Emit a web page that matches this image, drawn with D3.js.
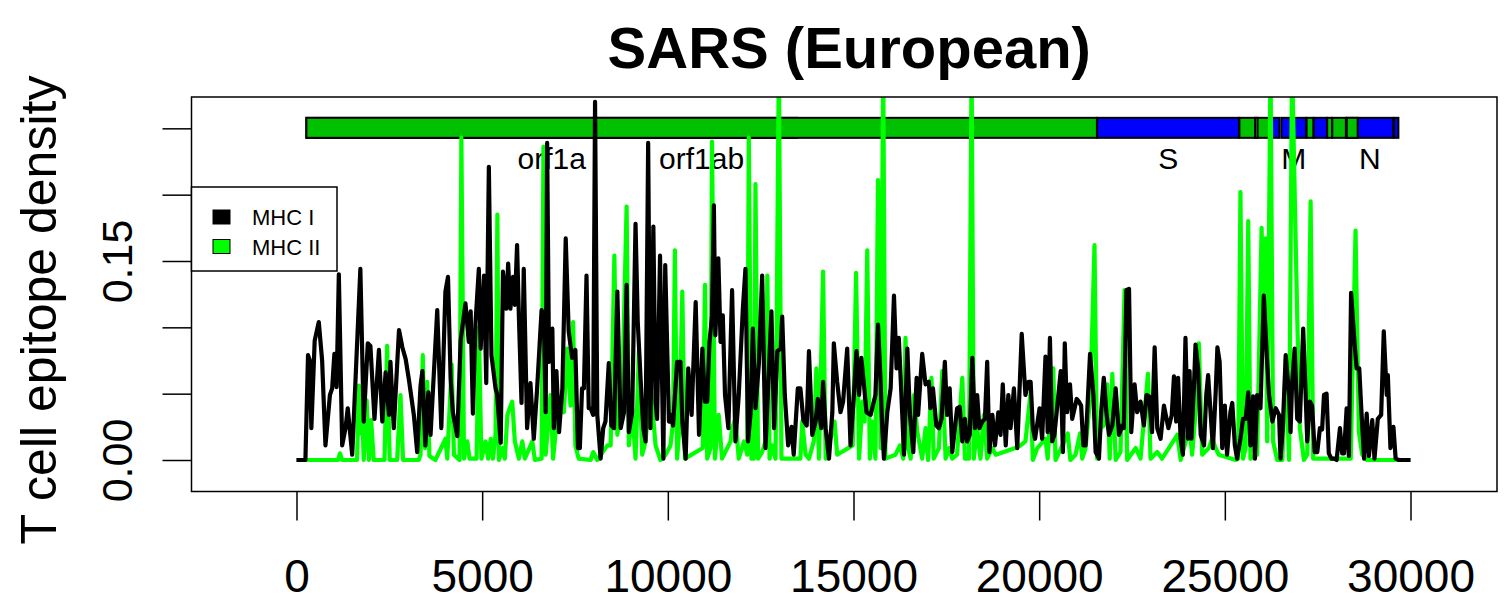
<!DOCTYPE html>
<html>
<head>
<meta charset="utf-8">
<script src="https://cdn.jsdelivr.net/npm/d3@7"></script>
<style>
  body { margin: 0; background: #fff; }
  svg { font-family: "Liberation Sans", Arial, Helvetica, sans-serif; }
</style>
</head>
<body>
<script>
// ---- data ----
// MHC I (black) epitope density: genome position, density
var mhc1Pos = [0,240,310,360,400,490,600,690,780,900,960,1020,1080,1140,1230,1320,1380,1500,1590,1720,1810,1920,1990,2100,2220,2310,2400,2490,2530,2620,2760,2850,2940,3030,3160,3250,3340,
  3390,3470,3550,3610,3790,3900,4010,4080,4150,4210,4330,4420,4550,4640,4690,4750,4820,4910,4960,5050,5110,5180,5250,5360,5400,5500,5560,5650,5700,5760,5830,5880,5940,5990,6060,6120,6210,6300,6390,6480,6600,6660,
  6710,6750,6800,6890,6930,7000,7070,7160,7250,7330,7420,7510,7580,7630,7690,7740,7810,7870,7920,7990,8040,8100,8190,8260,8320,8410,8480,8550,8640,8730,8820,8890,8950,9040,9130,9190,9270,9340,9400,9470,9530,9610,9670,9710,9790,9880,9930,
  10030,10070,10140,10250,10340,10390,10480,10550,10640,10750,10840,10930,11000,11060,11120,11190,11240,11280,11360,11420,11480,11540,11630,11730,11820,11910,12020,12090,12160,12230,12290,12360,12450,12540,12630,12700,12790,12860,12950,13040,13080,13150,13240,13330,13390,
  13500,13570,13650,13740,13800,13890,13980,14040,14130,14180,14250,14340,14430,14470,14560,14650,14720,14830,14920,15010,15080,15150,15210,15280,15350,15460,15590,15660,15730,15770,15820,15910,16000,16090,16160,16220,16290,16360,16450,16520,16610,16700,
  16740,16850,16940,17030,17070,17140,17230,17300,17370,17460,17520,17590,17660,17730,17790,17860,17930,18000,18060,18130,18200,18270,18330,18390,18470,18540,18600,18660,18740,18810,18900,18960,19020,19100,19170,19230,19320,19410,19530,19630,19710,19770,19830,19890,20010,20080,
  20170,20230,20290,20350,20410,20500,20580,20640,20690,20750,20830,20890,20930,21010,21070,21130,21190,21250,21370,21460,21520,21610,21670,21740,21810,21880,21970,22060,22150,22240,22280,22350,22420,22480,22570,22640,22730,22820,22890,22960,23040,23110,23180,23270,23360,
  23480,23570,23630,23690,23740,23810,23870,23940,24010,24050,24100,24170,24210,24280,24350,24440,24500,24550,24620,24680,24750,24800,24860,24930,25000,25060,25150,25200,25270,25330,25420,25490,25560,25630,25690,25760,25810,25870,25960,26050,26120,26190,26280,26370,26460,26500,26560,26640,26730,
  26770,26810,26880,26950,27020,27110,27170,27220,27290,27350,27420,27490,27560,27620,27670,27740,27800,27870,27940,28010,28100,28160,28210,28280,28340,28400,28490,28550,28620,28670,28750,28820,28880,28970,29030,29120,29210,29280,29360,29390,29460,29540,29600,29690,30000];
var mhc1Val = [0,0,0.079,0.075,0.024,0.09,0.104,0.075,0.011,0.049,0.054,0.08,0.055,0.14,0.011,0.024,0.039,0.004,0.061,0.144,0.029,0.088,0.086,0.031,0.083,0.029,0.066,0.034,0.074,0.024,0.098,0.085,0.076,0.06,0.034,0.006,0.056,
  0.067,0.011,0.051,0.019,0.113,0.024,0.127,0.138,0.062,0.036,0.018,0.09,0.118,0.089,0.112,0.035,0.103,0.144,0.084,0.139,0.058,0.221,0.079,0.054,0.05,0.013,0.142,0.114,0.148,0.114,0.138,0.117,0.162,0.107,0.043,0.144,0.024,0.058,0.016,0.054,0.113,0.109,
  0.036,0.239,0.074,0.099,0.024,0.067,0.021,0.054,0.167,0.097,0.077,0.083,0.009,0.009,0.054,0.054,0.139,0.039,0.039,0.034,0.27,0.034,0.001,0.024,0.029,0.073,0.026,0.024,0.127,0.024,0.036,0.132,0.021,0.036,0.178,0.104,0.059,0.024,0.014,0.239,0.024,0.176,0.044,0.031,0.154,0.001,0.147,
  0.029,0.034,0.026,0.074,0.074,0.029,0.001,0.069,0.034,0.119,0.019,0.084,0.044,0.044,0.088,0.109,0.192,0.094,0.152,0.089,0.109,0.049,0.024,0.128,0.014,0.049,0.114,0.144,0.014,0.036,0.099,0.039,0.072,0.139,0.009,0.054,0.112,0.024,0.082,0.084,0.108,0.049,0.011,0.025,0.004,
  0.054,0.054,0.03,0.026,0.082,0.019,0.029,0.046,0.024,0.059,0.024,0.001,0.036,0.088,0.059,0.036,0.044,0.084,0.011,0.049,0.082,0.049,0.077,0.057,0.036,0.034,0.049,0.102,0.059,0.026,0.001,0.036,0.054,0.124,0.069,0.092,0.049,0.004,0.084,0.034,0.006,0.062,
  0.034,0.08,0.057,0.059,0.039,0.054,0.026,0.024,0.031,0.074,0.034,0.054,0.006,0.024,0.039,0.04,0.014,0.031,0.014,0.019,0.077,0.024,0.049,0.024,0.029,0.031,0.074,0.006,0.034,0.011,0.036,0.019,0.057,0.011,0.049,0.024,0.054,0.009,0.095,0.049,0.059,0.059,0.024,0.016,0.039,0.016,
  0.078,0.021,0.092,0.014,0.019,0.044,0.067,0.006,0.088,0.036,0.057,0.031,0.036,0.046,0.044,0.041,0.011,0.011,0.08,0.049,0.006,0.001,0.036,0.062,0.036,0.019,0.026,0.054,0.019,0.026,0.024,0.128,0.129,0.021,0.057,0.036,0.044,0.026,0.049,0.048,0.021,0.085,0.024,0.016,0.041,
  0.024,0.034,0.063,0.029,0.062,0.016,0.004,0.092,0.016,0.067,0.016,0.057,0.087,0.069,0.019,0.011,0.049,0.064,0.034,0.009,0.049,0.085,0.074,0.009,0.041,0.004,0.036,0.043,0.011,0.001,0.016,0.031,0.031,0.051,0.011,0.048,0.001,0.049,0.039,0.124,0.084,0.049,0.029,0.039,0.034,0.001,0.024,0.079,0.049,
  0.021,0.057,0.084,0.031,0.029,0.099,0.054,0.014,0.044,0.041,0.006,0.006,0.024,0.023,0.049,0.05,0.005,0.001,0.001,0,0.024,0.005,0.005,0.039,0.003,0.126,0.089,0.069,0.069,0.041,0.001,0.035,0.003,0.03,0.001,0.031,0.034,0.097,0.049,0.064,0.009,0.025,0.001,0,0];

// MHC II (green) epitope density: genome position, density
var mhc2Pos = [0,1120,1170,1230,1630,1680,1720,1770,1810,1890,1950,2010,2080,2370,2440,2510,2710,2800,2870,3290,3340,3400,3460,3520,3580,3740,4010,4060,4180,4240,4390,4440,4510,4600,4660,4850,4910,4980,5090,5160,5230,5290,5360,5410,5450,5540,5610,5680,5740,5810,5880,5990,6080,6150,6350,6420,6600,6650,
  6710,6840,6910,6980,7110,7200,7290,7380,7450,7510,7600,7920,7990,8100,8370,8460,8560,8640,8770,8890,8950,9040,9130,9220,9310,9400,9530,9670,9800,9940,
  10070,10140,10190,10250,10310,10390,10460,10940,11000,11060,11150,11190,11270,11370,11460,11690,11730,11820,11910,12050,12140,12180,12250,12320,12360,12430,12540,12630,12680,12740,12810,12900,12990,13060,13570,13620,13710,13800,13930,14000,14070,14180,14250,14490,14560,14980,15070,15150,15240,15300,15370,15440,15500,15590,15660,15730,15800,15860,16130,16250,16340,16400,16470,16540,16630,16720,
  16850,16940,17010,17100,17160,17300,17390,17480,17570,17660,17790,17930,18000,18110,18180,18240,18330,18420,18510,18600,18740,18830,19360,19500,19630,19770,19830,19950,20170,20230,20380,20440,20710,20770,20840,20980,21100,21160,21250,21380,21490,21560,21650,21740,21830,21900,21970,22060,22190,22300,22370,22600,22730,22930,23000,23180,23310,
  23720,23810,24050,24120,24210,24300,24390,24570,24660,24750,24840,25290,25360,25420,25490,25560,25630,25690,25870,25990,26040,26100,26140,26230,26300,26410,26550,26640,26730,26810,26950,27020,27130,27220,27310,27380,28390,28520,28610,28700,28830,30000];
var mhc2Val = [0,0,0.005,0,0,0.056,0.02,0.04,0,0.045,0,0.03,0,0,0.086,0,0,0.049,0,0,0.004,0.079,0.009,0.059,0.003,0,0.016,0.001,0.072,0.004,0,0.243,0.001,0.014,0.001,0.001,0.1,0.001,0.014,0.001,0.016,0.001,0.019,0.185,0,0.009,0.001,0.034,0.039,0.044,0.014,0.001,0.014,0.001,0.014,0,0.001,0.236,
  0.004,0.049,0.001,0.021,0.041,0.036,0.084,0.041,0.104,0.011,0.001,0,0.006,0,0.011,0.011,0.154,0.019,0.049,0.191,0.011,0.039,0.001,0.082,0.004,0.014,0.057,0.011,0,0.004,
  0.011,0.028,0.158,0.001,0.024,0.127,0.001,0.009,0.132,0.001,0.009,0.24,0.001,0.034,0.001,0.014,0.024,0.031,0.001,0.014,0.004,0.243,0.001,0.001,0.208,0.001,0.006,0.014,0.139,0.001,0.011,0.001,0.3,0.001,0.001,0.029,0.004,0.001,0.014,0.069,0.001,0.142,0.001,0.029,0.004,0.011,0.141,0.001,0.044,0.029,0.158,0.001,0.029,0.001,0.211,0.009,0.3,0.001,0.004,0.011,0.001,0.092,0.009,0.001,0.049,0.021,
  0.001,0.024,0,0.062,0.001,0.009,0.067,0.001,0.009,0.001,0.004,0.062,0.001,0.001,0.3,0.001,0.024,0.001,0.034,0.001,0.009,0.004,0.009,0.011,0.014,0.051,0,0.009,0.016,0.001,0.069,0,0.016,0.02,0,0.004,0.02,0.001,0.009,0.049,0.162,0.001,0.024,0.026,0.057,0.001,0.065,0,0.006,0.128,0,0.009,0.001,0.065,0.001,0.006,0.001,
  0.019,0,0.024,0.004,0.036,0.088,0.004,0.009,0.016,0.009,0.004,0,0.001,0.202,0.001,0.009,0.18,0.001,0.004,0.175,0.099,0.167,0.014,0.3,0.014,0,0,0.077,0,0.3,0.107,0.024,0,0.004,0.195,0.001,0.001,0.173,0.021,0.004,0,0];

// genome annotation
var geneName  = ["orf1a","orf1ab","S","ORF3a","ORF3b","E","M","ORF6","ORF7a","ORF7b","ORF8","N","ORF9b","ORF10"];
var geneStart = [266,266,21563,25393,25814,26245,26523,27202,27394,27756,27894,28274,28284,29558];
var geneEnd   = [13483,21555,25384,26220,25882,26472,27191,27387,27759,27887,28259,29533,28577,29674];
var geneKind  = ["nsp","nsp","struct","acc","acc","struct","struct","acc","struct","acc","acc","struct","acc","struct"];
var geneShown = ["orf1a","orf1ab","S","M","N"];

var xTicks = [0,5000,10000,15000,20000,25000,30000];
var yTicks = [0,0.05,0.10,0.15,0.20,0.25];
var yLabels = [0,0.15];

// ---- layout ----
var W = 1505, H = 601;
var box = {left: 191.5, right: 1497, top: 97, bottom: 491.5};

var x = d3.scaleLinear().domain([0, 30000]).range([296.5, 1410.5]);
var y = d3.scaleLinear().domain([0, 0.15]).range([460, 261]);
var kindFill = d3.scaleOrdinal().domain(["nsp","struct","acc"]).range(["#00c000","#0000ff","#00c000"]);

var svg = d3.select("body").append("svg")
    .attr("width", W)
    .attr("height", H);

svg.append("defs").append("clipPath").attr("id", "plotclip")
  .append("rect")
    .attr("x", box.left).attr("y", box.top)
    .attr("width", box.right - box.left).attr("height", box.bottom - box.top);

// gene bar
var barY = y(0.25);
var bars = svg.append("g");
bars.selectAll("rect")
    .data(geneName)
  .enter().append("rect")
    .attr("x", function(d, i) { return x(geneStart[i]); })
    .attr("width", function(d, i) { return x(geneEnd[i]) - x(geneStart[i]); })
    .attr("y", barY - 10.5)
    .attr("height", 20)
    .style("fill", function(d, i) { return kindFill(geneKind[i]); })
    .style("stroke", "#000")
    .style("stroke-width", 2);

bars.selectAll("text")
    .data(geneName.filter(function(d) { return geneShown.indexOf(d) >= 0; }))
  .enter().append("text")
    .attr("x", function(d) { var i = geneName.indexOf(d); return x((geneStart[i] + geneEnd[i]) / 2); })
    .attr("y", barY + 41)
    .attr("text-anchor", "middle")
    .style("font-size", "30px")
    .text(function(d) { return d; });

// density lines
function series(pos, val) {
    return pos.map(function(p, i) { return [p, val[i]]; });
}
var line = d3.line()
    .x(function(d) { return x(d[0]); })
    .y(function(d) { return y(d[1]); });

var lines = svg.append("g").attr("clip-path", "url(#plotclip)");
lines.append("path")
    .datum(series(mhc2Pos, mhc2Val))
    .attr("d", line)
    .style("fill", "none")
    .style("stroke", "#00ff00")
    .style("stroke-width", 4.2)
    .style("stroke-linejoin", "round");
lines.append("path")
    .datum(series(mhc1Pos, mhc1Val))
    .attr("d", line)
    .style("fill", "none")
    .style("stroke", "#000")
    .style("stroke-width", 4.2)
    .style("stroke-linejoin", "round");

// frame
svg.append("rect")
    .attr("x", box.left).attr("y", box.top)
    .attr("width", box.right - box.left).attr("height", box.bottom - box.top)
    .style("fill", "none")
    .style("stroke", "#000")
    .style("stroke-width", 1.5);

// axes
var xAxis = svg.append("g").attr("transform", "translate(0," + box.bottom + ")")
    .call(d3.axisBottom(x).tickValues(xTicks).tickSize(29).tickPadding(39).tickFormat(d3.format("d")));
xAxis.select(".domain").remove();
xAxis.selectAll("line").style("stroke-width", 1.5);
xAxis.selectAll("text").style("font-size", "46px").style("font-family", "Liberation Sans, Arial, sans-serif");

var yAxis = svg.append("g").attr("transform", "translate(" + box.left + ",0)")
    .call(d3.axisLeft(y).tickValues(yTicks).tickSize(29).tickFormat(function(d) {
        return yLabels.some(function(v) { return Math.abs(v - d) < 1e-9; }) ? d3.format(".2f")(d) : "";
    }));
yAxis.select(".domain").remove();
yAxis.selectAll("line").style("stroke-width", 1.5);
yAxis.selectAll("text")
    .style("font-size", "43px")
    .style("font-family", "Liberation Sans, Arial, sans-serif")
    .attr("x", null).attr("dy", null)
    .attr("text-anchor", "middle")
    .attr("transform", "translate(-60,0) rotate(-90)");

// titles
svg.append("text")
    .attr("x", (box.left + box.right) / 2 + 5)
    .attr("y", 68)
    .attr("text-anchor", "middle")
    .style("font-size", "58px")
    .style("font-weight", "bold")
    .text("SARS (European)");

svg.append("text")
    .attr("transform", "translate(56,310) rotate(-90)")
    .attr("text-anchor", "middle")
    .style("font-size", "50px")
    .text("T cell epitope density");

// legend
var leg = svg.append("g");
leg.append("rect")
    .attr("x", box.left).attr("y", 187)
    .attr("width", 145.5).attr("height", 84)
    .style("fill", "#fff").style("stroke", "#000").style("stroke-width", 1.5);
var legNames = ["MHC I", "MHC II"];
var legFill = ["#000", "#00ff00"];
legNames.forEach(function(n, i) {
    leg.append("rect")
        .attr("x", 213).attr("y", 210 + i * 29.5)
        .attr("width", 17).attr("height", 14)
        .style("fill", legFill[i]).style("stroke", "#000").style("stroke-width", 1);
    leg.append("text")
        .attr("x", 252).attr("y", 225 + i * 29.5)
        .style("font-size", "22px")
        .text(n);
});
</script>
</body>
</html>
